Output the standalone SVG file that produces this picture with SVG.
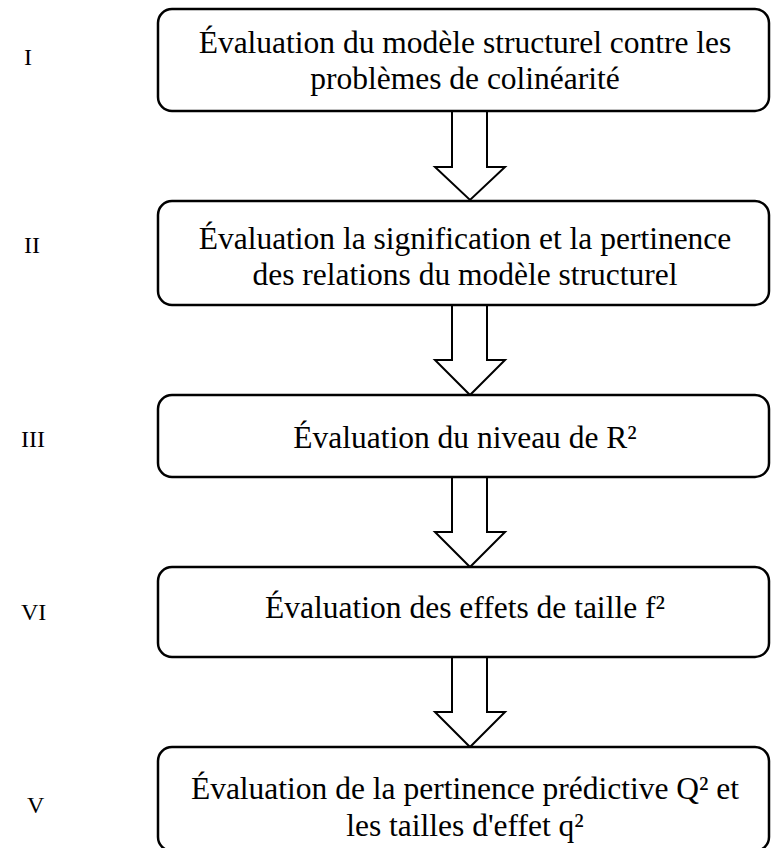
<svg xmlns="http://www.w3.org/2000/svg" width="771" height="848" viewBox="0 0 771 848">
  <style>
    .box { fill: #ffffff; stroke: #000000; stroke-width: 2.5; }
    .arrow { fill: #ffffff; stroke: #000000; stroke-width: 2; stroke-linejoin: miter; }
    .txt { font-family: "Liberation Serif", "Times New Roman", serif; font-size: 31.5px; fill: #000000; text-anchor: middle; }
    .num { font-family: "Liberation Serif", "Times New Roman", serif; font-size: 24px; fill: #000000; }
  </style>
  <rect width="771" height="848" fill="#ffffff"/>

  <!-- step numbers -->
  <g id="labels">
    <text class="num" x="24" y="65">I</text>
    <text class="num" x="24" y="253">II</text>
    <text class="num" x="21" y="447">III</text>
    <text class="num" x="21" y="620">VI</text>
    <text class="num" x="27" y="813">V</text>
  </g>

  <!-- block arrows between steps -->
  <g id="connectors">
    <polygon class="arrow" points="452,111 487,111 487,167 505,167 470,200 435,167 452,167"/>
    <polygon class="arrow" points="452,305 487,305 487,360 505,360 470,395 435,360 452,360"/>
    <polygon class="arrow" points="452,477 487,477 487,532 505,532 470,567 435,532 452,532"/>
    <polygon class="arrow" points="452,657 487,657 487,712 505,712 470,747 435,712 452,712"/>
  </g>

  <g id="step1">
    <rect class="box" x="158" y="9" width="611" height="102" rx="14"/>
    <text class="txt" x="465" y="53">Évaluation du modèle structurel contre les</text>
    <text class="txt" x="465" y="89">problèmes de colinéarité</text>
  </g>

  <g id="step2">
    <rect class="box" x="158" y="201" width="611" height="104" rx="14"/>
    <text class="txt" x="465" y="249">Évaluation la signification et la pertinence</text>
    <text class="txt" x="465" y="285">des relations du modèle structurel</text>
  </g>

  <g id="step3">
    <rect class="box" x="158" y="395" width="611" height="82" rx="14"/>
    <text class="txt" x="465" y="448">Évaluation du niveau de R²</text>
  </g>

  <g id="step4">
    <rect class="box" x="158" y="567" width="611" height="90" rx="14"/>
    <text class="txt" x="465" y="618">Évaluation des effets de taille f²</text>
  </g>

  <g id="step5">
    <rect class="box" x="158" y="747" width="611" height="104" rx="14"/>
    <text class="txt" x="465" y="799">Évaluation de la pertinence prédictive Q² et</text>
    <text class="txt" x="465" y="836">les tailles d'effet q²</text>
  </g>
</svg>
